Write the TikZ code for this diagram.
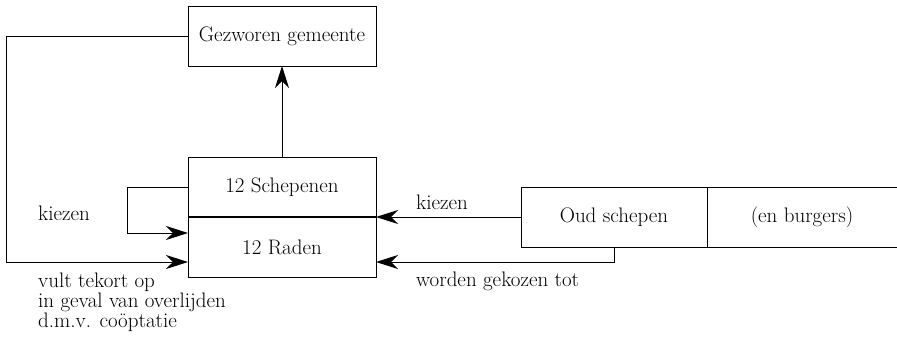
\documentclass[tikz,border=0pt]{standalone}
\usetikzlibrary{arrows.meta}
\begin{document}
\begin{tikzpicture}[x=1pt,y=-1pt,
  font=\fontsize{21}{20}\selectfont,
  box/.style={draw, line width=0.9pt, inner sep=0pt, outer sep=0pt, minimum height=60pt},
  conn/.style={line width=0.9pt},
  arr/.style={conn, -{Stealth[length=22pt,width=14pt,inset=7pt]}},
  lbl/.style={anchor=west, inner sep=0pt, align=left}]
\useasboundingbox (0,0) rectangle (897,338);
\node[box, minimum width=188pt] (gm) at (282,36) {Gezworen gemeente};
\node[box, minimum width=188pt] (sch) at (282,187) {12 Schepenen};
\node[box, minimum width=188pt] (rad) at (282,247) {12 Raden};
\draw[line width=1.8pt] (sch.south west) -- (sch.south east);
\node[box, minimum width=186pt] (oud) at (614,217) {Oud schepen};
\node[inner sep=0pt] (burg) at (802,217) {(en burgers)};
\coordinate (ne) at (897,187);
\coordinate (se) at (897,247);
\draw[conn] (oud.north east) -- (ne);
\draw[conn] (oud.south east) -- (se);
% arrows
\draw[arr] (sch.north) -- (gm.south);
\draw[arr] (gm.west) -| (6,262) -- ([yshift=-15pt]rad.west);
\draw[arr] (sch.west) -- ++(-61,0) |- ([yshift=14pt]rad.west);
\draw[arr] (oud.west) -- (sch.south east);
\draw[arr] (oud.south) |- ([yshift=-15pt]rad.east);
% labels
\node[lbl] (k1) at (38,213) {kiezen};
\node[lbl] (k2) at (416,202) {kiezen};
\node[lbl] (wg) at (416,281) {worden gekozen tot};
\node[lbl, anchor=north west] (vt) at (38,273) {vult tekort op\\in geval van overlijden\\d.m.v. coöptatie};
\end{tikzpicture}
\end{document}
